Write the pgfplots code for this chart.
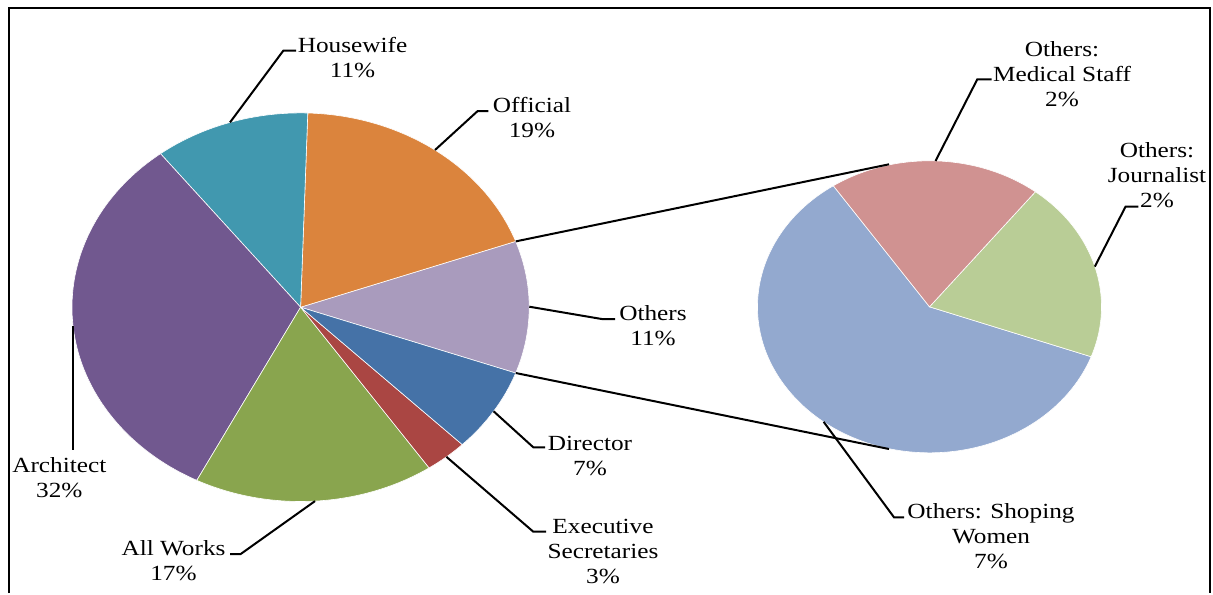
\documentclass[border=0pt]{standalone}
\usepackage{pgfplots}
\pgfplotsset{compat=1.18}
\usepackage{fontspec}
\setmainfont{Liberation Serif}[FakeStretch=1.17]
\definecolor{cHouse}{HTML}{4198AF}
\definecolor{cOfficial}{HTML}{DB843D}
\definecolor{cOthers}{HTML}{A99BBD}
\definecolor{cDir}{HTML}{4572A7}
\definecolor{cExec}{HTML}{AA4643}
\definecolor{cAll}{HTML}{89A54E}
\definecolor{cArch}{HTML}{71588F}
\definecolor{cMed}{HTML}{D09291}
\definecolor{cJour}{HTML}{B9CD96}
\definecolor{cShop}{HTML}{93A9CF}
\begin{document}
\begin{tikzpicture}[lbl/.style={align=center,font=\fontsize{10.8}{12.5}\selectfont,inner sep=0pt,anchor=center},
  ld/.style={line width=1pt,black}]
\begin{axis}[x=0.5pt, y=0.5pt, xmin=0, xmax=1213, ymin=0, ymax=593, y dir=reverse,
  hide axis, clip=false, enlargelimits=false]
\path (axis cs:0,0) rectangle (axis cs:1213,593);
% frame
\draw[line width=1pt] (axis cs:8.5,593) -- (axis cs:8.5,7.5) -- (axis cs:1210,7.5) -- (axis cs:1210,593);
% main pie (percent values), Others centred on the right
\pgfplotsextra{
  \xdef\pieA{-19.8}
  \foreach \v/\c in {11/cOthers,19/cOfficial,11/cHouse,32/cArch,17/cAll,3/cExec,7/cDir}{
    \pgfmathsetmacro\pieE{\pieA+3.6*\v}
    \fill[\c, draw=white, line width=0.3pt] (axis cs:300.6,307.2) -- ++(\pieA:114.3pt and 97.15pt)
      arc[start angle=\pieA, end angle=\pieE, x radius=114.3pt, y radius=97.15pt] -- cycle;
    \xdef\pieA{\pieE}
  }
  % secondary pie (percent values of Others)
  \xdef\pieA{-236}
  \foreach \v/\c in {6.6/cShop,2.2/cJour,2.2/cMed}{
    \pgfmathsetmacro\pieE{\pieA+360/11*\v}
    \fill[\c, draw=white, line width=0.3pt] (axis cs:929.5,306.8) -- ++(\pieA:86pt and 73pt)
      arc[start angle=\pieA, end angle=\pieE, x radius=86pt, y radius=73pt] -- cycle;
    \xdef\pieA{\pieE}
  }
}
% connector lines
\draw[ld] (axis cs:515.7,241.4) -- (axis cs:889,164.3);
\draw[ld] (axis cs:515.7,373) -- (axis cs:889,449);
% leader lines
\draw[ld] (axis cs:230,122.4) -- (axis cs:283.3,50.7) -- (axis cs:296,50.7);
\draw[ld] (axis cs:435,150) -- (axis cs:477.7,111) -- (axis cs:488.3,111);
\draw[ld] (axis cs:529.3,306.7) -- (axis cs:601.7,319) -- (axis cs:615,319);
\draw[ld] (axis cs:493.6,411.3) -- (axis cs:533.3,447.3) -- (axis cs:545,447.3);
\draw[ld] (axis cs:446.4,456.8) -- (axis cs:533.3,531.7) -- (axis cs:546,531.7);
\draw[ld] (axis cs:73,326) -- (axis cs:73,450);
\draw[ld] (axis cs:315,501.1) -- (axis cs:240.7,554) -- (axis cs:230,554);
\draw[ld] (axis cs:935.5,161) -- (axis cs:977.3,79.3) -- (axis cs:991.7,79.3);
\draw[ld] (axis cs:1094.8,266.6) -- (axis cs:1125.5,206.7) -- (axis cs:1138.3,206.7);
\draw[ld] (axis cs:823.6,421.8) -- (axis cs:894,517.3) -- (axis cs:904,517.3);
% labels
\node[lbl] at (axis cs:352.5,57.5) {Housewife\\11\%};
\node[lbl] at (axis cs:532,117.5) {Official\\19\%};
\node[lbl] at (axis cs:653,325.5) {Others\\11\%};
\node[lbl] at (axis cs:590,455.5) {Director\\7\%};
\node[lbl] at (axis cs:603,551) {Executive\\Secretaries\\3\%};
\node[lbl] at (axis cs:59.3,477.5) {Architect\\32\%};
\node[lbl] at (axis cs:173.5,561) {All Works\\17\%};
\node[lbl] at (axis cs:1062,74) {Others:\\Medical Staff\\2\%};
\node[lbl] at (axis cs:1157,175.5) {Others:\\Journalist\\2\%};
\node[lbl] at (axis cs:991,535.7) {Others: Shoping\\Women\\7\%};
\end{axis}
\end{tikzpicture}
\end{document}
